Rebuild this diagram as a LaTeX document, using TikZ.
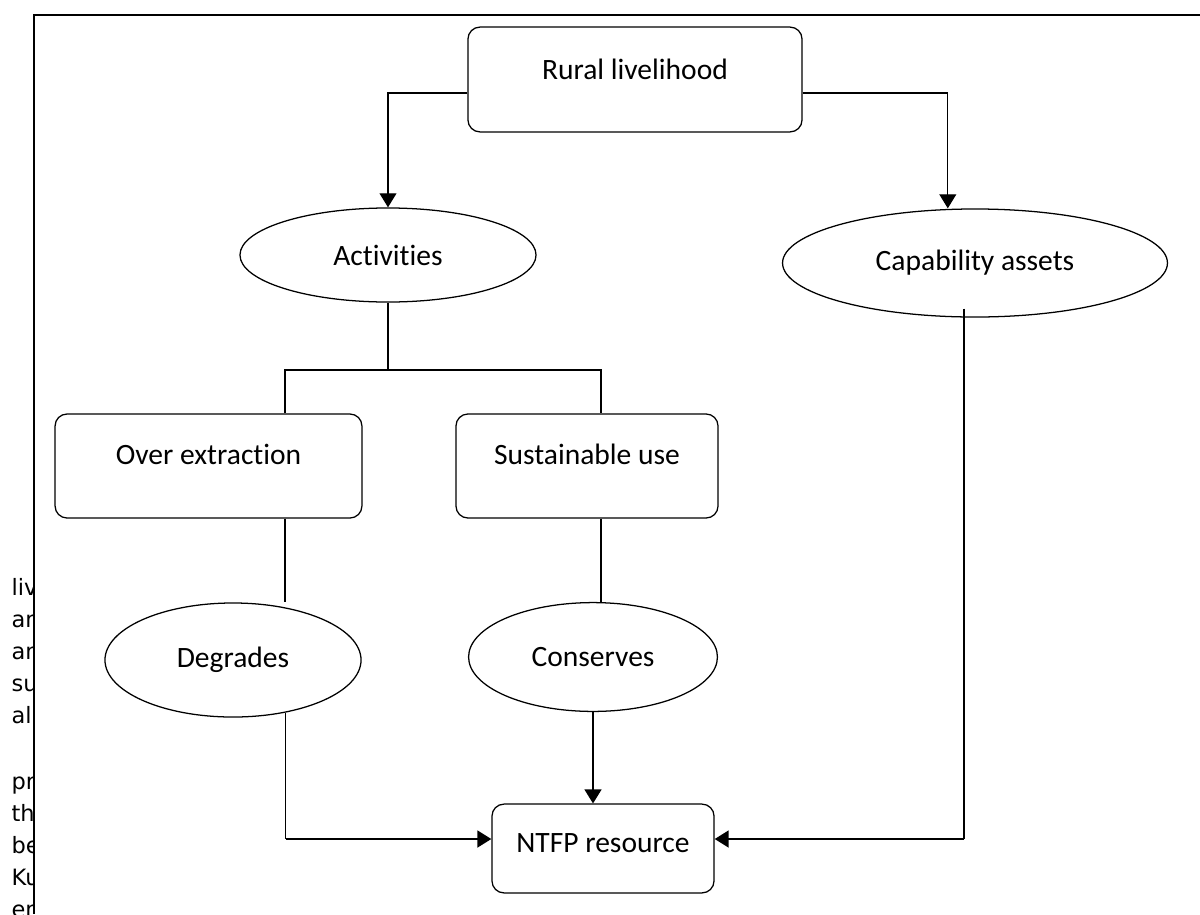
\documentclass[tikz,border=0pt]{standalone}
\usepackage{fontspec}
\setmainfont{Carlito}[Ligatures=NoCommon]
\newfontfamily\fragfont{DejaVu Sans}
\usetikzlibrary{shapes.geometric,arrows.meta,calc}
\tikzset{rbox/.style={draw,rounded corners=0.3cm,text height=0.5cm,text depth=0.55cm,font=\fontsize{21}{25}\selectfont},
oval/.style={ellipse,draw,inner sep=0pt,font=\fontsize{21}{25}\selectfont},
frag/.style={anchor=base west,inner sep=0pt,font=\fragfont\fontsize{16}{19}\selectfont}}

\begin{document}
\begin{tikzpicture}[x=0.025cm,y=-0.025cm,line width=0.9pt,>={Triangle[length=10pt,width=12pt]}]
        \useasboundingbox (0,0) rectangle (1200,914);
        % page frame
        \draw [line width=1.2pt] (1200,15) -- (34,15) -- (34,914);

        \node[rbox,minimum width=8.35cm,minimum height=2.62cm,text depth=0.5cm] (rural)at (635,79.5) {Rural livelihood};
        \node[oval,minimum width=7.4cm,minimum height=2.35cm] (act)at (388,255) {Activities};
        \node[oval,minimum width=9.62cm,minimum height=2.7cm] (cap)at (975,263) {Capability assets};
        \node[rbox,minimum width=7.67cm,minimum height=2.6cm,text depth=0.6cm] (over)at (208.5,466) {Over extraction};
        \node[rbox,minimum width=6.55cm,minimum height=2.6cm,text depth=0.6cm] (sust)at (587,466) {Sustainable use};
        \node[oval,minimum width=6.4cm,minimum height=2.85cm] (degr)at (233,660) {Degrades};
        \node[oval,minimum width=6.22cm,minimum height=2.72cm] (cons)at (593,657) {Conserves};
        \node[rbox,minimum width=5.55cm,minimum height=2.22cm,text depth=0.28cm] (ntfp)at (603,848.5) {NTFP resource};

        \coordinate (forkl)at (285,370);
        \coordinate (forkr)at (601,370);
        \coordinate (lcorner)at (286,839);
        \coordinate (rcorner)at (964,839);

        \draw [->] ([yshift=-0.34cm]rural.west) -| (act.north);
        \draw [->] ([yshift=-0.34cm]rural.east) -| ([xshift=-0.68cm]cap.north);
        \draw [] (act.south) -- (act.south |- forkl);
        \draw [] (over.north -| forkl) -- (forkl) -- (forkr) -- (sust.north -| forkr);
        \draw [] (over.south -| forkl) -- (degr.north -| forkl);
        \draw [] (sust.south -| forkr) -- (cons.north -| forkr);
        \draw [] (degr.315) -- (degr.315 |- lcorner);
        \draw [->,line width=1.7pt] (degr.315 |- lcorner) -- (ntfp.west |- lcorner);
        \draw [->,line width=1.3pt] (cons.south) -- (cons.south |- ntfp.north);
        \draw [line width=1.3pt] ($(cap.south -| rcorner)+(0,-9)$) -- (rcorner);
        \draw [->,line width=1.7pt] (rcorner) -- (ntfp.east |- rcorner);

        % cut-off text of the page
        \begin{scope}
        \clip (0,560) rectangle (33,914);
        \node[frag] (f1)at (11,595) {liv};
        \node[frag] (f2)at (11,627) {an};
        \node[frag] (f3)at (11,659) {an};
        \node[frag] (f4)at (11,691) {su};
        \node[frag] (f5)at (11,723) {al};
        \node[frag] (f6)at (11,789) {pr};
        \node[frag] (f7)at (11,821) {th};
        \node[frag] (f8)at (11,853) {be};
        \node[frag] (f9)at (11,885) {Ku};
        \node[frag] (f10)at (11,917) {en};
        \end{scope}
    \end{tikzpicture}
\end{document}
